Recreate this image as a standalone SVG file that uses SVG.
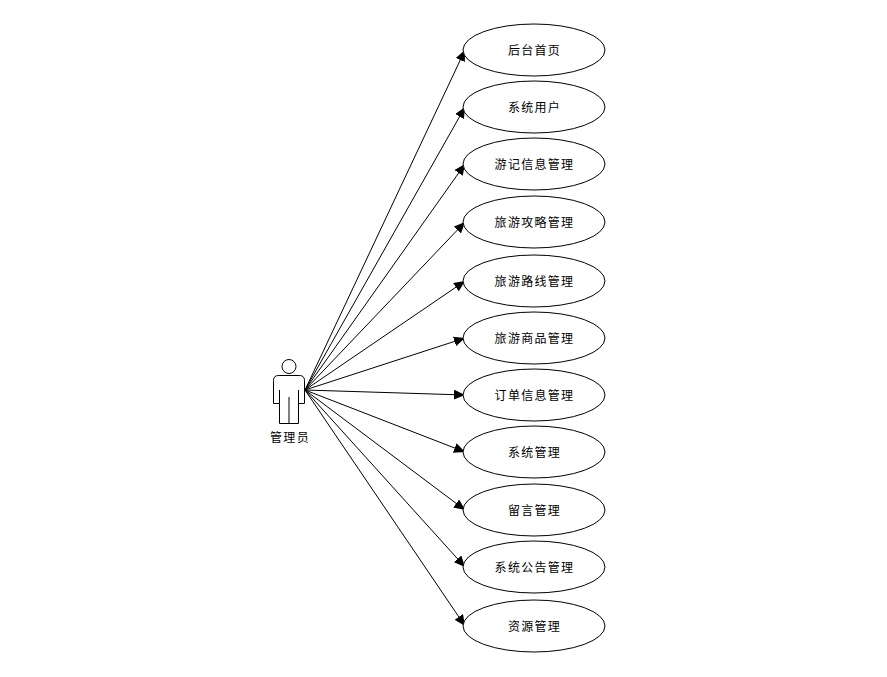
<svg xmlns="http://www.w3.org/2000/svg" width="887" height="677" viewBox="0 0 887 677">
<style>
.n ellipse{fill:#fff;stroke:#000;stroke-width:1}
text{font-family:"Noto Sans CJK SC","Liberation Sans",sans-serif;font-size:12px;fill:#000;text-anchor:middle;letter-spacing:1.3px}
#connectors line{stroke:#000;stroke-width:1;marker-end:url(#a)}
#actor *{fill:#fff;stroke:#000;stroke-width:1}
#actor text{fill:#000;stroke:none}
</style>
<defs><marker id="a" markerUnits="userSpaceOnUse" markerWidth="12" markerHeight="10" refX="11" refY="5" orient="auto"><path d="M0,0L11,5L0,10Z" fill="#000"/></marker></defs>
<g id="actor">
<circle cx="289" cy="366.500" r="7"/>
<path d="M278.500,375.500H299.500Q304.500,375.500 304.500,380.500V403.500H298.500V423.500H279.500V403.500H273.500V380.500Q273.500,375.500 278.500,375.500Z"/>
<path d="M279.500,390V403.500M298.500,390V403.500M289,397V423.500" fill="none"/>
<text x="290" y="442" style="fill:#000;stroke:none">管理员</text>
</g>
<g id="connectors">
<line x1="305" y1="390" x2="465" y2="50"/>
<line x1="305" y1="390" x2="465" y2="107"/>
<line x1="305" y1="390" x2="465" y2="164"/>
<line x1="305" y1="390" x2="465" y2="222"/>
<line x1="305" y1="390" x2="465" y2="281"/>
<line x1="305" y1="390" x2="465" y2="338"/>
<line x1="305" y1="390" x2="465" y2="395"/>
<line x1="305" y1="390" x2="465" y2="452"/>
<line x1="305" y1="390" x2="465" y2="510"/>
<line x1="305" y1="390" x2="465" y2="567"/>
<line x1="305" y1="390" x2="465" y2="626"/>
</g>
<g id="n1" class="n"><ellipse cx="534" cy="50" rx="71" ry="26"/><text x="534.500" y="55">后台首页</text></g>
<g id="n2" class="n"><ellipse cx="534" cy="107" rx="71" ry="26"/><text x="534.500" y="112">系统用户</text></g>
<g id="n3" class="n"><ellipse cx="534" cy="164" rx="71" ry="26"/><text x="534.500" y="169">游记信息管理</text></g>
<g id="n4" class="n"><ellipse cx="534" cy="222" rx="71" ry="26"/><text x="534.500" y="227">旅游攻略管理</text></g>
<g id="n5" class="n"><ellipse cx="534" cy="281" rx="71" ry="26"/><text x="534.500" y="286">旅游路线管理</text></g>
<g id="n6" class="n"><ellipse cx="534" cy="338" rx="71" ry="26"/><text x="534.500" y="343">旅游商品管理</text></g>
<g id="n7" class="n"><ellipse cx="534" cy="395" rx="71" ry="26"/><text x="534.500" y="400">订单信息管理</text></g>
<g id="n8" class="n"><ellipse cx="534" cy="452" rx="71" ry="26"/><text x="534.500" y="457">系统管理</text></g>
<g id="n9" class="n"><ellipse cx="534" cy="510" rx="71" ry="26"/><text x="534.500" y="515">留言管理</text></g>
<g id="n10" class="n"><ellipse cx="534" cy="567" rx="71" ry="26"/><text x="534.500" y="572">系统公告管理</text></g>
<g id="n11" class="n"><ellipse cx="534" cy="626" rx="71" ry="26"/><text x="534.500" y="631">资源管理</text></g>
</svg>
